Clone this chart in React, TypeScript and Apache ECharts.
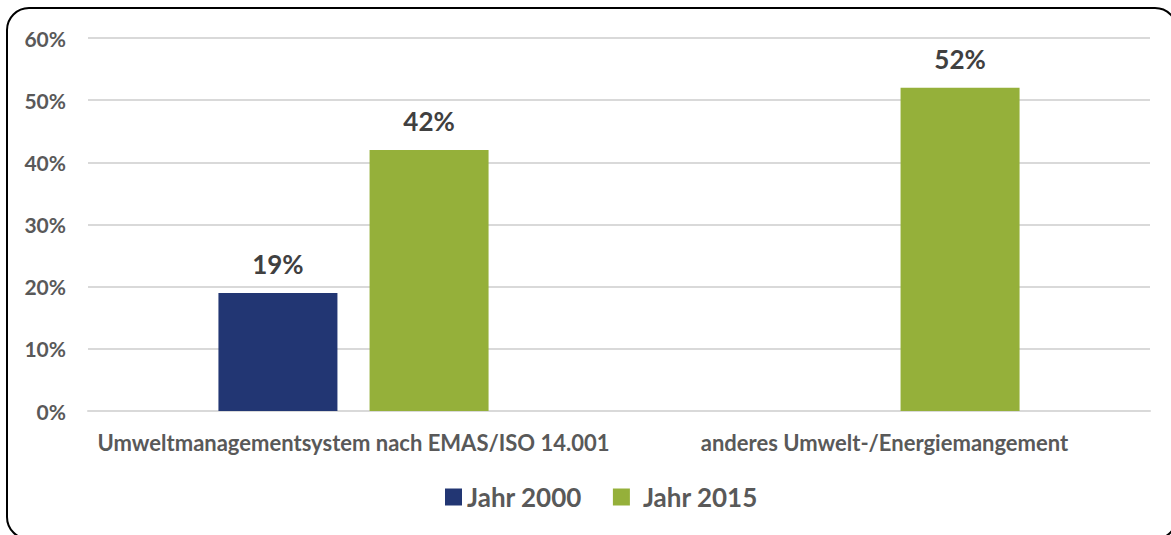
import React, { useEffect, useRef } from "react";
import * as echarts from "echarts";

const categories = [
  "Umweltmanagementsystem nach EMAS/ISO 14.001",
  "anderes Umwelt-/Energiemangement",
];
const seriesNames = ["Jahr 2000", "Jahr 2015"];
const jahr2000: (number | null)[] = [19, null];
const jahr2015: (number | null)[] = [42, 52];
const yTicks = [0, 10, 20, 30, 40, 50, 60];

const FONT = "Lato, 'Open Sans', sans-serif";

export default function App() {
  const ref = useRef<HTMLDivElement>(null);
  useEffect(() => {
    document.body.style.margin = "0";
    const chart = echarts.init(ref.current!, null, { renderer: "svg" });
    const label = {
      show: true,
      position: "top" as const,
      distance: 16,
      formatter: "{c}%",
      fontFamily: FONT,
      fontWeight: "bold" as const,
      fontSize: 26,
      color: "#404040",
    };
    chart.setOption({
      animation: false,
      backgroundColor: "#ffffff",
      grid: { left: 88, right: 21, top: 38, bottom: 124, containLabel: false },
      legend: {
        bottom: 20,
        left: 440,
        itemWidth: 17,
        itemHeight: 17,
        itemGap: 31,
        icon: "rect",
        textStyle: { fontFamily: FONT, fontWeight: "bold", fontSize: 26, color: "#595959" },
        data: [
          { name: seriesNames[0] },
          { name: seriesNames[1], textStyle: { padding: [0, 0, 0, 8] } },
        ],
      },
      xAxis: {
        type: "category",
        data: categories,
        axisLine: { show: true, lineStyle: { color: "#d9d9d9", width: 2 } },
        axisTick: { show: false },
        axisLabel: {
          interval: 0,
          margin: 20,
          fontFamily: FONT,
          fontWeight: "bold",
          fontSize: 22,
          color: "#595959",
        },
      },
      yAxis: {
        type: "value",
        min: yTicks[0],
        max: yTicks[yTicks.length - 1],
        interval: 10,
        axisLine: { show: false },
        axisTick: { show: false },
        splitLine: { lineStyle: { color: "#d9d9d9", width: 2 } },
        axisLabel: {
          margin: 22,
          formatter: "{value}%",
          fontFamily: FONT,
          fontWeight: "bold",
          fontSize: 21,
          color: "#595959",
        },
      },
      series: [
        {
          name: seriesNames[0],
          type: "bar",
          data: jahr2000,
          barWidth: 119,
          barGap: "27%",
          itemStyle: { color: "#223673" },
          label,
        },
        {
          name: seriesNames[1],
          type: "bar",
          data: jahr2015,
          barWidth: 119,
          barGap: "27%",
          itemStyle: { color: "#95b03a" },
          label,
        },
      ],
      graphic: [
        {
          type: "rect",
          shape: { x: 7, y: 8, width: 1170, height: 531, r: 22 },
          style: { fill: "none", stroke: "#000000", lineWidth: 2 },
          silent: true,
        },
      ],
    });
    return () => chart.dispose();
  }, []);
  return (
    <div
      ref={ref}
      style={{ position: "absolute", left: 0, top: 0, width: 1171, height: 535 }}
    />
  );
}
